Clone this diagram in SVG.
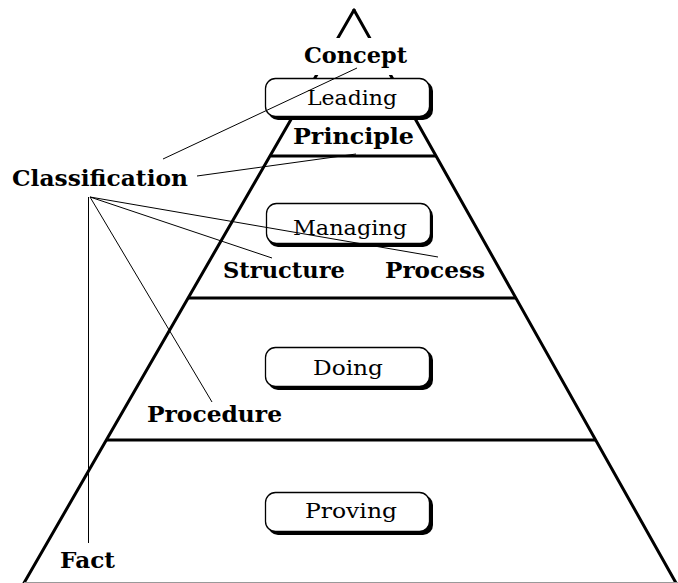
<svg xmlns="http://www.w3.org/2000/svg" width="678" height="583" viewBox="0 0 678 583">
  <style>
    .edge { stroke: #000; stroke-width: 3; fill: none; stroke-linecap: round; }
    .tier { stroke: #000; stroke-width: 3; fill: none; }
    .link { stroke: #000; stroke-width: 1; fill: none; }
    .shadow { fill: #000; }
    .box { fill: #fff; stroke: #000; stroke-width: 1.3; }
    .lbl { font-family: "DejaVu Serif", "Liberation Serif", serif; font-weight: bold; font-size: 23px; fill: #000; }
    .btxt { font-family: "DejaVu Serif", "Liberation Serif", serif; font-size: 21px; fill: #000; text-anchor: middle; }
  </style>
  <rect width="678" height="583" fill="#fff"/>

  <!-- pyramid outline and tiers -->
  <g id="pyramid">
    <line class="edge" x1="354" y1="10" x2="24" y2="583"/>
    <line class="edge" x1="354" y1="10" x2="676" y2="583"/>
    <line class="tier" x1="271" y1="156" x2="436" y2="156"/>
    <line class="tier" x1="188" y1="298" x2="516" y2="298"/>
    <line class="tier" x1="106" y1="440" x2="596" y2="440"/>
    <line x1="24" y1="582.5" x2="678" y2="582.5" stroke="#999" stroke-width="1"/>
  </g>

  <!-- label backing over the apex -->
  <rect x="302" y="38" width="106" height="37" fill="#fff"/>

  <g id="leading">
    <rect class="shadow" x="268" y="81" width="165" height="39" rx="10"/>
    <rect class="box" x="265.5" y="78.5" width="164" height="38" rx="10"/>
    <text class="btxt" x="352" y="105" textLength="90" lengthAdjust="spacingAndGlyphs">Leading</text>
  </g>
  <g id="managing">
    <rect class="shadow" x="268" y="206" width="165" height="41" rx="10"/>
    <rect class="box" x="266.5" y="203.5" width="164" height="40" rx="10"/>
    <text class="btxt" x="350" y="235" textLength="114" lengthAdjust="spacingAndGlyphs">Managing</text>
  </g>
  <g id="doing">
    <rect class="shadow" x="268" y="350" width="165" height="40" rx="10"/>
    <rect class="box" x="265.5" y="347.5" width="164" height="39" rx="10"/>
    <text class="btxt" x="348" y="375" textLength="70" lengthAdjust="spacingAndGlyphs">Doing</text>
  </g>
  <g id="proving">
    <rect class="shadow" x="268" y="495" width="165" height="40" rx="10"/>
    <rect class="box" x="265.5" y="492.5" width="164" height="39" rx="10"/>
    <text class="btxt" x="351" y="518" textLength="92" lengthAdjust="spacingAndGlyphs">Proving</text>
  </g>

  <!-- connectors -->
  <g id="connectors">
    <line class="link" x1="357" y1="68" x2="163" y2="159"/>
    <line class="link" x1="197" y1="176" x2="356" y2="154"/>
    <line class="link" x1="90" y1="197" x2="438" y2="257"/>
    <line class="link" x1="90" y1="197" x2="272" y2="258"/>
    <line class="link" x1="90" y1="197" x2="212" y2="402"/>
    <line class="link" x1="88.5" y1="197" x2="88.5" y2="543"/>
  </g>

  <g id="concept"><text class="lbl" x="304" y="63" textLength="103" lengthAdjust="spacingAndGlyphs">Concept</text></g>
  <g id="principle"><text class="lbl" x="293" y="144" textLength="121" lengthAdjust="spacingAndGlyphs">Principle</text></g>
  <g id="classification"><text class="lbl" x="12" y="186" textLength="176" lengthAdjust="spacingAndGlyphs">Classification</text></g>
  <g id="structure"><text class="lbl" x="223" y="278" textLength="122" lengthAdjust="spacingAndGlyphs">Structure</text></g>
  <g id="process"><text class="lbl" x="385" y="278" textLength="100" lengthAdjust="spacingAndGlyphs">Process</text></g>
  <g id="procedure"><text class="lbl" x="147" y="422" textLength="135" lengthAdjust="spacingAndGlyphs">Procedure</text></g>
  <g id="fact"><text class="lbl" x="60" y="568" textLength="55" lengthAdjust="spacingAndGlyphs">Fact</text></g>
</svg>
